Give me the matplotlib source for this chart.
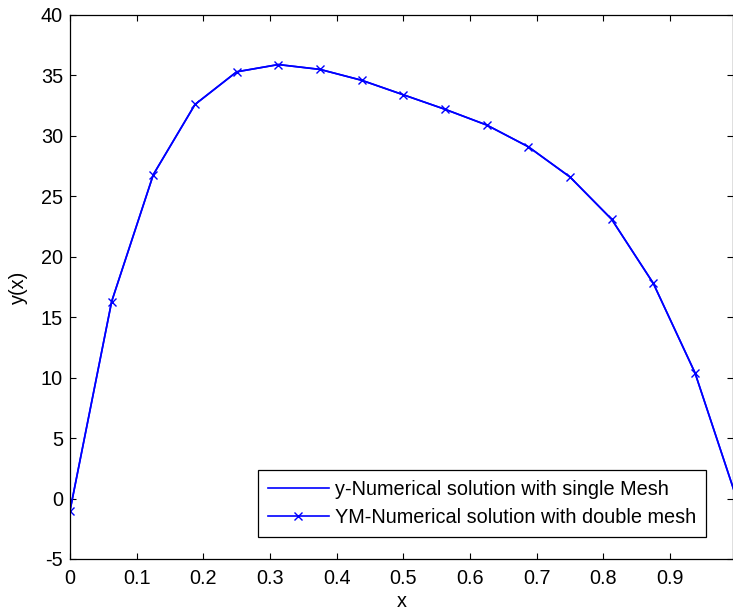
import matplotlib
matplotlib.use("Agg")
import matplotlib.pyplot as plt
import numpy as np

# mesh points (h = 1/16)
x_nodes = [0, 0.0625, 0.125, 0.1875, 0.25, 0.3125, 0.375, 0.4375, 0.5,
           0.5625, 0.625, 0.6875, 0.75, 0.8125, 0.875, 0.9375, 1.0]
y_single = [-1.0, 16.3, 26.8, 32.6, 35.3, 35.9, 35.5, 34.6, 33.4,
            32.2, 30.9, 29.1, 26.6, 23.1, 17.8, 10.4, 0.0]
y_double = [-1.0, 16.3, 26.8, 32.6, 35.3, 35.9, 35.5, 34.6, 33.4,
            32.2, 30.9, 29.1, 26.6, 23.1, 17.8, 10.4, 0.0]

x_ticks = [0, 0.1, 0.2, 0.3, 0.4, 0.5, 0.6, 0.7, 0.8, 0.9]
y_ticks = [-5, 0, 5, 10, 15, 20, 25, 30, 35, 40]

plt.rcParams['font.family'] = ['Liberation Sans', 'DejaVu Sans']
plt.rcParams['font.size'] = 14.3
plt.rcParams['axes.unicode_minus'] = False

fig = plt.figure(figsize=(7.33, 6.15), dpi=100)
ax = fig.add_axes([70/733, 1 - 559/615, 663/733, 544/615])

ax.plot(x_nodes, y_single, '-', color='b', lw=1.2,
        label='y-Numerical solution with single Mesh')
ax.plot(x_nodes, y_double, '-', color='b', lw=1.2, marker='x', ms=6, mew=1,
        label='YM-Numerical solution with double mesh')

ax.set_xlim(0, 0.9945)
ax.set_ylim(-5, 40)
ax.set_xticks(x_ticks)
ax.set_xticklabels(['0'] + [str(t) for t in x_ticks[1:]])
ax.set_yticks(y_ticks)
ax.tick_params(direction='in', top=True, right=True, length=4.5, width=0.8,
               labelsize=14.3)
ax.tick_params(axis='x', pad=7)
ax.tick_params(axis='y', pad=5)
for s in ax.spines.values():
    s.set_linewidth(0.9)

ax.set_xlabel('x', labelpad=3)
ax.set_ylabel('y(x)', labelpad=9)

leg = ax.legend(loc='lower right', bbox_to_anchor=(0.959, 0.0404),
                borderaxespad=0, fancybox=False, framealpha=1,
                edgecolor='k', handlelength=3.05, fontsize=14.3,
                borderpad=0.5, labelspacing=0.45, handletextpad=0.3)
leg.get_frame().set_linewidth(0.9)

fig.savefig('out.png', dpi=100)
